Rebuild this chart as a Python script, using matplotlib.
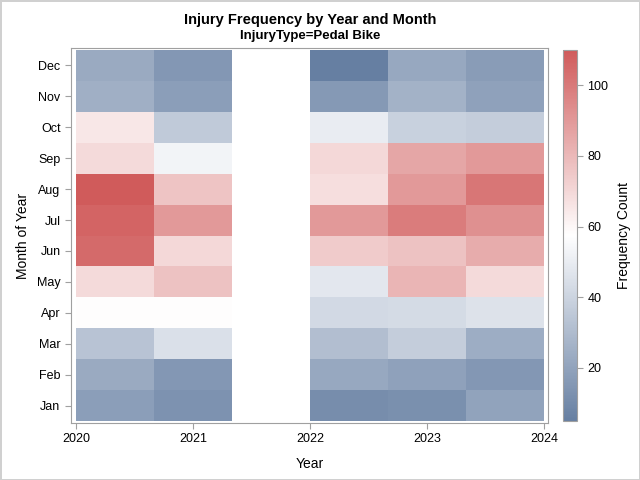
import numpy as np
import matplotlib
matplotlib.use("Agg")
import matplotlib.pyplot as plt
from matplotlib.colors import LinearSegmentedColormap

plt.rcParams['font.family'] = ['Liberation Sans', 'DejaVu Sans']

# data: counts per month (Jan..Dec) for each year
years = [2020, 2021, 2022, 2023, 2024]
month_labels = ['Jan', 'Feb', 'Mar', 'Apr', 'May', 'Jun',
                'Jul', 'Aug', 'Sep', 'Oct', 'Nov', 'Dec']
counts_2020 = [18, 23, 33, 58, 69, 105, 107, 110, 69, 65, 25, 23]
counts_2021 = [13, 15, 45, 58, 77, 70, 90, 76, 53, 36, 18, 15]
counts_2022 = [11, 22, 31, 42, 48, 74, 90, 68, 70, 50, 16, 5]
counts_2023 = [12, 19, 37, 43, 81, 77, 99, 90, 86, 39, 26, 22]
counts_2024 = [20, 15, 24, 46, 69, 84, 93, 101, 90, 37, 19, 17]

all_counts = [counts_2020, counts_2021, counts_2022, counts_2023, counts_2024]

x = np.repeat(years, 12)
y = np.tile(np.arange(1, 13), len(years))
w = np.concatenate(all_counts)

cmap = LinearSegmentedColormap.from_list('ramp', ['#667FA2', '#FFFFFF', '#D05B5B'])

fig = plt.figure(figsize=(6.4, 4.8), dpi=100)
fig.patch.set_edgecolor('#D0D0D0')
fig.patch.set_linewidth(2)

ax = fig.add_axes([71/640, 1 - 423/480, 477/640, 375/480])
xedges = np.linspace(2020, 2024, 7)
yedges = np.arange(0.5, 13.5, 1)
h = ax.hist2d(x, y, bins=[xedges, yedges], weights=w, cmap=cmap,
              cmin=0.5, vmin=w.min(), vmax=w.max())

ax.set_xlim(2020 - 5/117, 2024 + 4/117)
ax.set_ylim(0.45, 12.55)
ax.set_xticks(years)
ax.set_xticklabels([str(v) for v in years])
ax.set_yticks(np.arange(1, 13))
ax.set_yticklabels(month_labels)
ax.tick_params(colors='#A0A0A0', labelcolor='black', labelsize=9, length=4)
for s in ax.spines.values():
    s.set_color('#A0A0A0')
ax.set_xlabel('Year', fontsize=10, labelpad=8)
ax.set_ylabel('Month of Year', fontsize=10, labelpad=5)

fig.text(310/640, 1 - 20/480, 'Injury Frequency by Year and Month',
         ha='center', va='center', fontsize=10.5, fontweight='bold')
fig.text(310/640, 1 - 36/480, 'InjuryType=Pedal Bike',
         ha='center', va='center', fontsize=9.5, fontweight='bold')

cax = fig.add_axes([563/640, 1 - 421/480, 14/640, 371/480])
cb = fig.colorbar(h[3], cax=cax)
cb.set_ticks([20, 40, 60, 80, 100])
cb.outline.set_edgecolor('#A0A0A0')
cax.tick_params(colors='#A0A0A0', labelcolor='black', labelsize=9, length=4)
cb.set_label('Frequency Count', fontsize=10, labelpad=6)

fig.savefig('out.png', dpi=100)
